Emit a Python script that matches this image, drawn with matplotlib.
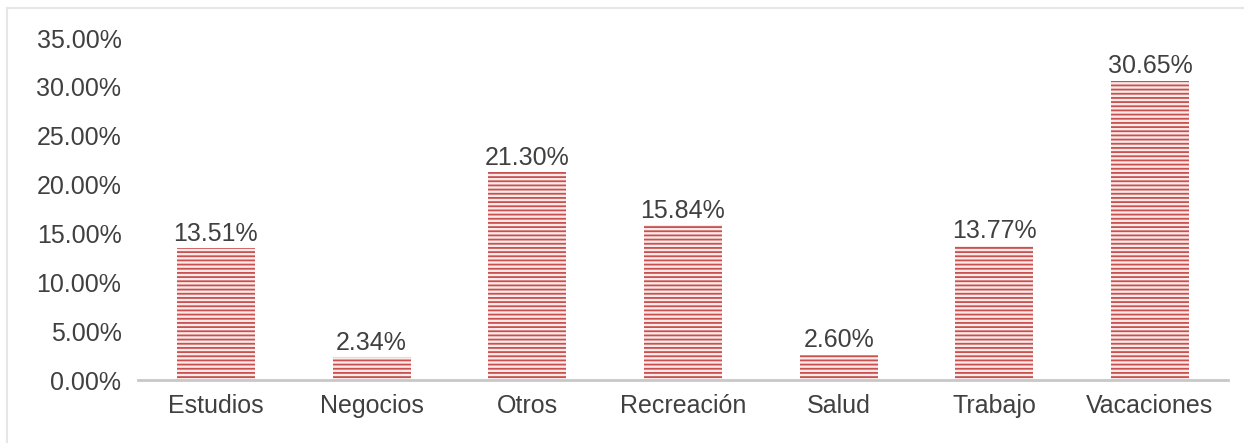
import matplotlib
matplotlib.use("Agg")
import matplotlib.pyplot as plt
from matplotlib.ticker import PercentFormatter
from matplotlib.lines import Line2D

# Datos del gráfico
categorias = ['Estudios', 'Negocios', 'Otros', 'Recreación', 'Salud', 'Trabajo', 'Vacaciones']
porcentajes = [13.51, 2.34, 21.30, 15.84, 2.60, 13.77, 30.65]
etiquetas = ['13.51%', '2.34%', '21.30%', '15.84%', '2.60%', '13.77%', '30.65%']

plt.rcParams['font.family'] = ['Liberation Sans', 'DejaVu Sans']
plt.rcParams['hatch.linewidth'] = 1.3
plt.rcParams['hatch.color'] = '#c8504e'

fig = plt.figure(figsize=(12.44, 4.43), dpi=100)
ax = fig.add_axes([0.111, 0.142, 0.876, 0.772])

x = list(range(len(categorias)))
ax.bar(x, porcentajes, width=0.5, color='#fbeaea', hatch='----',
       edgecolor='#c8504e', linewidth=0)

for xi, v, t in zip(x, porcentajes, etiquetas):
    ax.text(xi, v + 0.25, t, ha='center', va='bottom', fontsize=18, color='#404040')

ax.set_xlim(-0.5, len(categorias) - 0.5)
ax.set_ylim(0, 35)
ax.set_yticks([0, 5, 10, 15, 20, 25, 30, 35])
ax.yaxis.set_major_formatter(PercentFormatter(decimals=2))
ax.set_xticks(x)
ax.set_xticklabels(categorias)
ax.tick_params(axis='both', length=0, labelsize=18, labelcolor='#404040')
ax.tick_params(axis='y', pad=12)
ax.tick_params(axis='x', pad=10)

for s in ['top', 'right', 'left']:
    ax.spines[s].set_visible(False)
ax.spines['bottom'].set_color('#c8c8c8')
ax.spines['bottom'].set_linewidth(2)

# Marco gris claro (arriba e izquierda)
fig.add_artist(Line2D([0.006, 0.006], [0.0, 0.982], color='#e6e6e6', lw=1.5, transform=fig.transFigure))
fig.add_artist(Line2D([0.006, 1.0], [0.982, 0.982], color='#e6e6e6', lw=1.5, transform=fig.transFigure))

fig.savefig('out.png', dpi=100)
